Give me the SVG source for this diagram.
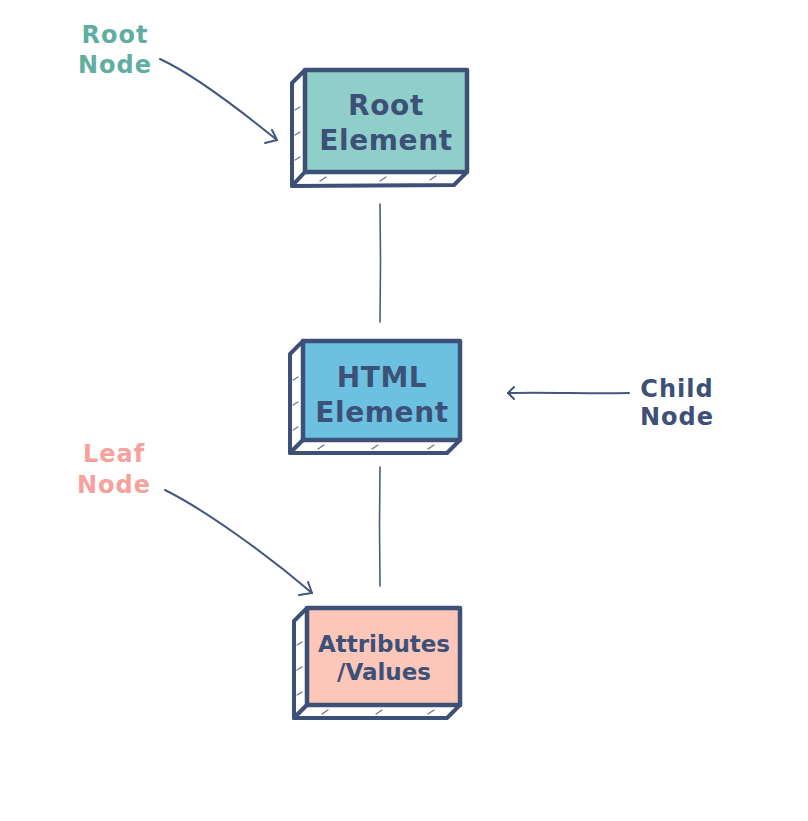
<svg xmlns="http://www.w3.org/2000/svg" width="808" height="821" viewBox="0 0 808 821">
<defs>
<style>
.face{stroke:#3d5077;stroke-width:4.5;stroke-linejoin:round}
.side{fill:#ffffff;stroke:#3d5077;stroke-width:4;stroke-linejoin:round}
.hatch{stroke:#3d5077;stroke-width:1.2;fill:none;stroke-linecap:round;opacity:0.8}
.lbl{font-family:"DejaVu Sans",Verdana,sans-serif;font-weight:bold;text-anchor:middle}
.node-t{font-size:28px;fill:#3d5077;letter-spacing:0.6px}
.ann{font-size:24px;letter-spacing:1px}
.conn{stroke:#4a5a7e;stroke-width:1.6;fill:none;stroke-linecap:round}
.arr{stroke:#44567f;stroke-width:2;fill:none;stroke-linecap:round;stroke-linejoin:round}
</style>
</defs>
<rect width="808" height="821" fill="#ffffff"/>

<g id="connectors">
<path class="conn" d="M380,204 L380.5,262 L380,322"/>
<path class="conn" d="M380,467 L379.5,525 L380,586"/>
<path class="arr" d="M160,59 C195,75 240,110 277,140"/>
<path class="arr" d="M265,143 L277,140 L272,130"/>
<path class="arr" d="M165,490 C205,510 265,553 312,593"/>
<path class="arr" d="M299,595 L312,593 L308,582"/>
<path class="arr" d="M629,393 C590,394 550,392 508,393"/>
<path class="arr" d="M514,387 L508,393 L514,399"/>
</g>

<g id="root-element">
<path class="side" d="M305,70 L292,83 L292,186 L305,172 Z"/>
<path class="side" d="M292,186 L454,185 L467,172 L305,172 Z"/>
<path class="hatch" d="M295,110 l5,-3 M295,135 l5,-3 M295,160 l5,-3 M320,181 l6,-4 M380,181 l6,-4 M430,180 l6,-4"/>
<rect class="face" x="305" y="70" width="162" height="102" fill="#90cfc9"/>
<text class="lbl node-t" x="386" y="115">Root</text>
<text class="lbl node-t" x="386" y="150">Element</text>
</g>

<g id="html-element">
<path class="side" d="M303,341 L290,354 L290,453 L303,440 Z"/>
<path class="side" d="M290,453 L447,453 L460,440 L303,440 Z"/>
<path class="hatch" d="M293,380 l5,-3 M293,405 l5,-3 M293,430 l5,-3 M318,449 l6,-4 M372,449 l6,-4 M428,449 l6,-4"/>
<rect class="face" x="303" y="341" width="157" height="99" fill="#6cc0e0"/>
<text class="lbl node-t" x="382" y="387">HTML</text>
<text class="lbl node-t" x="382" y="422">Element</text>
</g>

<g id="attributes-values">
<path class="side" d="M307,608 L294,621 L294,718 L307,705 Z"/>
<path class="side" d="M294,718 L447,718 L460,705 L307,705 Z"/>
<path class="hatch" d="M297,645 l5,-3 M297,670 l5,-3 M297,695 l5,-3 M322,714 l6,-4 M376,714 l6,-4 M428,714 l6,-4"/>
<rect class="face" x="307" y="608" width="153" height="97" fill="#fcc6b8"/>
<text class="lbl" x="384" y="652" style="font-size:23px;fill:#3d5077">Attributes</text>
<text class="lbl" x="384" y="680" style="font-size:23px;fill:#3d5077">/Values</text>
</g>

<g id="root-node-label">
<text class="lbl ann" x="115" y="43" fill="#5fae9f">Root</text>
<text class="lbl ann" x="115" y="73" fill="#5fae9f">Node</text>
</g>

<g id="leaf-node-label">
<text class="lbl ann" x="114" y="462" fill="#f4a29b">Leaf</text>
<text class="lbl ann" x="114" y="493" fill="#f4a29b">Node</text>
</g>

<g id="child-node-label">
<text class="lbl ann" x="677" y="397" fill="#3d5077">Child</text>
<text class="lbl ann" x="677" y="425" fill="#3d5077">Node</text>
</g>
</svg>
